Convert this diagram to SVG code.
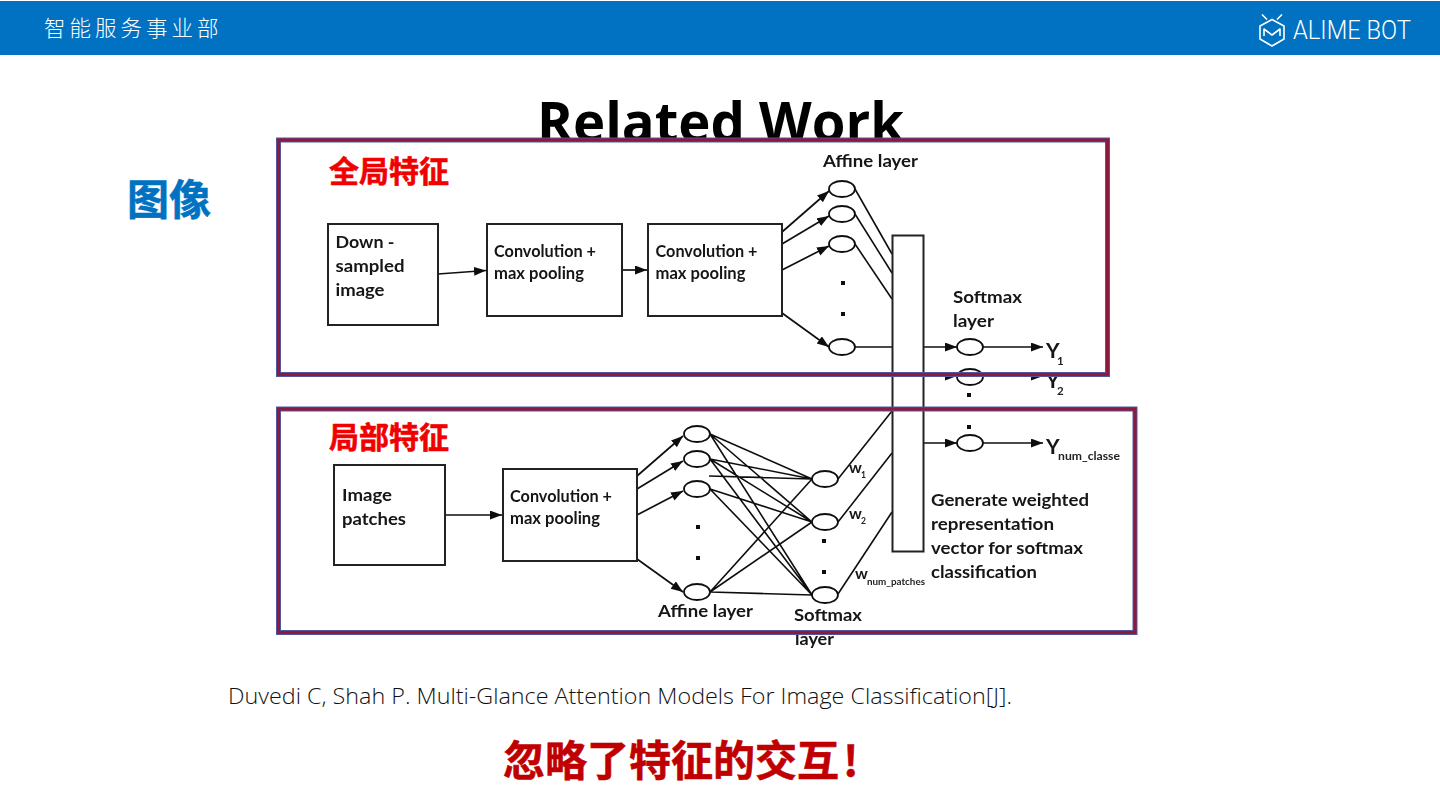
<svg xmlns="http://www.w3.org/2000/svg" width="1440" height="810" viewBox="0 0 1440 810">
<defs>
<marker id="ah" markerUnits="userSpaceOnUse" markerWidth="14" markerHeight="10" refX="12" refY="4.500" orient="auto"><path d="M0 0L12 4.500L0 9Z" fill="#111"/></marker>
<filter id="soft" x="-2%" y="-2%" width="104%" height="104%"><feGaussianBlur stdDeviation="0.4"/></filter>
</defs>
<style>
text{font-family:"Lato","Noto Sans CJK SC",sans-serif;}
.lb{font-size:17.5px;font-weight:700;fill:#151515;}
.y{font-size:21px;font-weight:700;fill:#151515;}
.sm{font-size:11.500px;font-weight:700;fill:#222;}
.cjk{font-family:"Noto Sans CJK SC",sans-serif;font-weight:700;stroke-width:0.6;}
.box{fill:#fff;stroke:#222;stroke-width:2;}
.node{fill:#fff;stroke:#111;stroke-width:1.8;}
.ln{fill:none;stroke:#111;stroke-width:1.6;}
.ar{fill:none;stroke:#111;stroke-width:1.7;marker-end:url(#ah);}
.dot{fill:#111;}
.fr1{fill:none;stroke:#4c5fa6;stroke-width:5;}
.fr2{fill:none;stroke:#8b1a3c;stroke-width:3.200;}
</style>
<rect width="1440" height="810" fill="#fff"/>
<g id="header">
<rect x="0" y="1" width="1440" height="54" fill="#0072c1"/>
<text x="44" y="36" font-size="21.5" letter-spacing="4" fill="#fff" style="font-family:'Noto Sans CJK SC',sans-serif;font-weight:300">智能服务事业部</text>
<g id="logo" fill="none" stroke="#fff" stroke-width="1.6" stroke-linejoin="round">
<path d="M1272 19.500L1284 26V39L1272 46L1260 39V26Z"/>
<path d="M1264 36V29L1272 35L1280 29V36"/>
<path d="M1262 14.500L1267 19.500M1282 14.500L1277 19.500"/>
</g>
<text x="1293" y="39" font-size="25" fill="#fff" style="font-family:'Roboto',sans-serif;font-weight:300" textLength="118" lengthAdjust="spacingAndGlyphs">ALIME BOT</text>
</g>
<text id="title" x="537" y="142" font-size="56" fill="#000" style="font-family:'Open Sans',sans-serif;font-weight:700" textLength="367" lengthAdjust="spacingAndGlyphs">Related Work</text>
<g id="figure" filter="url(#soft)">
<rect x="278" y="142" width="858" height="510" fill="#fff"/>
<g id="connectors">
<path class="ar" d="M438 274L486 270.5"/>
<path class="ar" d="M622 270H647"/>
<path class="ar" d="M782 232L829 191"/>
<path class="ar" d="M782 244L829 216"/>
<path class="ar" d="M782 270L829 246"/>
<path class="ar" d="M782 313L829 347"/>
<path class="ln" d="M855 189L892 254M855 214L892 273M855 244L892 299M855 347H892"/>
<path class="ar" d="M924 347H957"/>
<path class="ar" d="M924 376H957"/>
<path class="ar" d="M924 443H957"/>
<path class="ar" d="M983 347H1043"/>
<path class="ar" d="M983 376H1043"/>
<path class="ar" d="M983 443H1043"/>
<path class="ar" d="M445 515H502"/>
<path class="ar" d="M637 476L683 436"/>
<path class="ar" d="M637 489L683 461"/>
<path class="ar" d="M637 515L683 491"/>
<path class="ar" d="M637 559L683 592"/>
<path class="ln" d="M710 434L812 479M710 434L812 522M710 434L812 595M710 459L812 479M710 459L812 522M710 459L812 595M709 476L812 479M710 489L812 522M710 489L812 595M710 592L812 479M710 592L812 522M710 592L812 595"/>
<path class="ln" d="M838 479L892 411M838 522L892 453M838 594L892 512"/>
</g>
<g id="n-down"><rect class="box" x="328" y="224" width="110" height="101"/><text class="lb" x="335.500" y="248" textLength="59" lengthAdjust="spacingAndGlyphs">Down -</text><text class="lb" x="335.500" y="272" textLength="69" lengthAdjust="spacingAndGlyphs">sampled</text><text class="lb" x="335.500" y="296" textLength="49" lengthAdjust="spacingAndGlyphs">image</text></g>
<g id="n-conv1"><rect class="box" x="487" y="224" width="135" height="92"/><text class="lb" x="494" y="257" textLength="102" lengthAdjust="spacingAndGlyphs">Convolution +</text><text class="lb" x="494" y="279" textLength="90" lengthAdjust="spacingAndGlyphs">max pooling</text></g>
<g id="n-conv2"><rect class="box" x="648" y="224" width="134" height="92"/><text class="lb" x="655.500" y="257" textLength="102" lengthAdjust="spacingAndGlyphs">Convolution +</text><text class="lb" x="655.500" y="279" textLength="90" lengthAdjust="spacingAndGlyphs">max pooling</text></g>
<g id="n-patches"><rect class="box" x="334" y="465" width="111" height="100"/><text class="lb" x="342" y="501" textLength="50" lengthAdjust="spacingAndGlyphs">Image</text><text class="lb" x="342" y="525" textLength="64" lengthAdjust="spacingAndGlyphs">patches</text></g>
<g id="n-conv3"><rect class="box" x="503" y="469" width="134" height="92"/><text class="lb" x="510" y="502" textLength="102" lengthAdjust="spacingAndGlyphs">Convolution +</text><text class="lb" x="510" y="524" textLength="90" lengthAdjust="spacingAndGlyphs">max pooling</text></g>
<g id="n-a1"><ellipse class="node" cx="842" cy="189" rx="13" ry="8"/></g>
<g id="n-a2"><ellipse class="node" cx="842" cy="214" rx="13" ry="8"/></g>
<g id="n-a3"><ellipse class="node" cx="842" cy="244" rx="13" ry="8"/></g>
<g id="n-a4"><ellipse class="node" cx="842" cy="347" rx="13" ry="8"/></g>
<g id="n-s1"><ellipse class="node" cx="970" cy="347" rx="13" ry="8"/></g>
<g id="n-s2"><ellipse class="node" cx="970" cy="377" rx="13" ry="8"/></g>
<g id="n-s3"><ellipse class="node" cx="970" cy="443" rx="13" ry="8"/></g>
<g id="n-b1"><ellipse class="node" cx="697" cy="434" rx="13" ry="8"/></g>
<g id="n-b2"><ellipse class="node" cx="697" cy="459" rx="13" ry="8"/></g>
<g id="n-b3"><ellipse class="node" cx="697" cy="489" rx="13" ry="8"/></g>
<g id="n-b4"><ellipse class="node" cx="697" cy="592" rx="13" ry="8"/></g>
<g id="n-c1"><ellipse class="node" cx="825" cy="479" rx="13" ry="8"/></g>
<g id="n-c2"><ellipse class="node" cx="825" cy="522" rx="13" ry="8"/></g>
<g id="n-c3"><ellipse class="node" cx="825" cy="595" rx="13" ry="8"/></g>
<g id="n-tall"><rect class="box" x="892.500" y="235.500" width="31" height="316"/></g>
<g id="dots">
<rect class="dot" x="841" y="281" width="4" height="4"/><rect class="dot" x="841" y="312" width="4" height="4"/>
<rect class="dot" x="967" y="393" width="4" height="4"/><rect class="dot" x="967" y="425" width="4" height="4"/>
<rect class="dot" x="696" y="525" width="4" height="4"/><rect class="dot" x="696" y="556" width="4" height="4"/>
<rect class="dot" x="822" y="539" width="4" height="4"/><rect class="dot" x="822" y="570" width="4" height="4"/>
</g>
<g id="labels">
<text class="lb" x="823" y="167" textLength="95" lengthAdjust="spacingAndGlyphs">Affine layer</text>
<text class="lb" x="953" y="303" textLength="69" lengthAdjust="spacingAndGlyphs">Softmax</text>
<text class="lb" x="953" y="327" textLength="41" lengthAdjust="spacingAndGlyphs">layer</text>
<text class="y" x="1046" y="358">Y</text><text class="sm" x="1057" y="365">1</text>
<text class="y" x="1046" y="388">Y</text><text class="sm" x="1057" y="395">2</text>
<text class="y" x="1046" y="454">Y</text><text class="sm" x="1058" y="460" textLength="62" lengthAdjust="spacingAndGlyphs">num_classe</text>
<text class="lb" x="658" y="617" textLength="95" lengthAdjust="spacingAndGlyphs">Affine layer</text>
<text class="lb" x="794" y="621" textLength="68" lengthAdjust="spacingAndGlyphs">Softmax</text>
<text class="lb" x="795" y="645" textLength="39" lengthAdjust="spacingAndGlyphs">layer</text>
<text class="lb" x="849" y="473" style="font-size:16px">w</text><text class="sm" x="861" y="478" style="font-size:8.500px">1</text>
<text class="lb" x="849" y="519" style="font-size:16px">w</text><text class="sm" x="861" y="524" style="font-size:8.500px">2</text>
<text class="lb" x="855" y="579" style="font-size:16px">w</text><text class="sm" x="867" y="585" style="font-size:9.500px" textLength="58" lengthAdjust="spacingAndGlyphs">num_patches</text>
<text class="lb" x="931" y="506" textLength="158" lengthAdjust="spacingAndGlyphs">Generate weighted</text>
<text class="lb" x="931" y="530" textLength="123" lengthAdjust="spacingAndGlyphs">representation</text>
<text class="lb" x="931" y="554" textLength="152" lengthAdjust="spacingAndGlyphs">vector for softmax</text>
<text class="lb" x="931" y="578" textLength="106" lengthAdjust="spacingAndGlyphs">classification</text>
</g>
</g>
<g id="frames">
<rect class="fr1" x="278.500" y="140" width="829" height="234.500"/><rect class="fr2" x="278.500" y="140" width="829" height="234.500"/>
<rect class="fr1" x="278.500" y="409" width="856.500" height="223.500"/><rect class="fr2" x="278.500" y="409" width="856.500" height="223.500"/>
</g>
<text class="cjk" x="329" y="182" font-size="30" fill="#f00000" stroke="#f00000">全局特征</text>
<text class="cjk" x="329" y="448" font-size="30" fill="#f00000" stroke="#f00000">局部特征</text>
<text class="cjk" x="127" y="215" font-size="42" fill="#0072c1" stroke="#0072c1">图像</text>
<text id="cite" x="228" y="704" font-size="22" fill="#111" style="font-family:'Open Sans',sans-serif;font-weight:300" textLength="784" lengthAdjust="spacingAndGlyphs">Duvedi C, Shah P. Multi-Glance Attention Models For Image Classification[J].</text>
<text class="cjk" x="503" y="776" font-size="42" fill="#c00000" stroke="#c00000">忽略了特征的交互<tspan dx="4">!</tspan></text>
</svg>
